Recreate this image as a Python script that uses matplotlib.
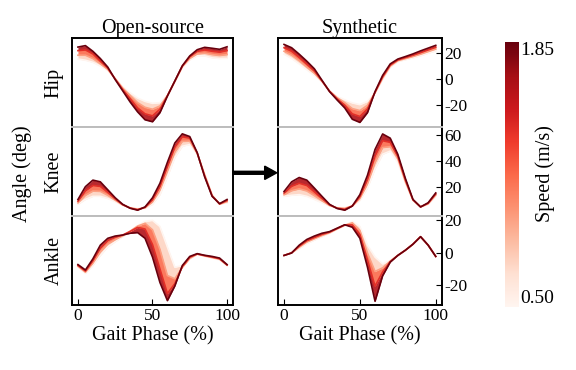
import matplotlib
matplotlib.use('Agg')
import matplotlib.pyplot as plt
import numpy as np
from matplotlib import cm
from matplotlib.colors import Normalize

plt.rcParams['font.family'] = ['Liberation Serif', 'DejaVu Serif']
plt.rcParams['axes.unicode_minus'] = False

# gait phase (%) at which the curves were read
phase = list(range(0, 101, 5))

# walking speeds (m/s) of the plotted curves: slow -> fast
speeds = [0.50, 0.95, 1.40, 1.85]

# ---- Open-source data (deg), one list per speed ----
os_hip = [
    [15.1, 14.2, 12.6, 9.8, 6.4, 0.5, -5.9, -10.5, -14.5, -17, -18.5, -18, -12.5, -2, 8.9, 14.5, 17.6, 17.5, 16, 15.5, 15.6],
    [18, 18, 15.5, 11.5, 7.2, 0.2, -6.9, -12.5, -18, -21.5, -23, -20.5, -12.7, -1.8, 9.3, 15.5, 19, 19.6, 18.5, 17.8, 18.5],
    [21.5, 22, 19, 13.5, 8.2, -0.2, -8, -15, -22, -26.5, -28, -23, -12.8, -1.6, 9.7, 16.8, 21, 22, 21, 20.3, 21.5],
    [24.2, 25.3, 21, 15.5, 9, -0.5, -9, -17.5, -25, -31, -32.5, -25.6, -13, -1.5, 10, 17.5, 22.2, 24, 23.3, 22.5, 24.4],
]
os_knee = [
    [6.9, 10.6, 13, 13, 11.3, 8.9, 6.1, 4.4, 3.7, 3.9, 6.9, 14.3, 27.9, 42.7, 51.3, 52.6, 45.2, 30.4, 14.3, 6.9, 8.1],
    [8, 13.8, 17, 16.8, 13.8, 10, 6.4, 4.2, 3.2, 4.2, 8.7, 17.9, 32.5, 47, 55, 55.2, 45.8, 29.5, 13.8, 7, 8.9],
    [9.3, 17.2, 21.3, 20.6, 16, 11, 6.7, 4, 2.8, 4.6, 10.3, 20.5, 35.8, 50.7, 58.5, 57.5, 46.2, 28.5, 13.3, 7.2, 9.8],
    [10.6, 20.4, 25.4, 24.1, 18, 11.9, 6.9, 3.9, 2.4, 4.9, 11.9, 23, 39, 53.8, 60.8, 58.7, 46.4, 27.9, 13, 7.4, 10.6],
]
os_ankle = [
    [-8.9, -12.7, -7.9, -1.7, 3.5, 6.7, 9.8, 12.9, 16.5, 19.2, 19.8, 16, 3.5, -8.9, -7.9, -3.8, -1, -2.3, -3.3, -4.4, -7.9],
    [-8.3, -12, -6.5, 0.5, 5.3, 8, 10.3, 13.2, 16.3, 18, 14, 2, -14, -16, -9, -3.5, -0.9, -2, -3, -4, -7.7],
    [-7.8, -11.3, -5, 2.8, 7.5, 9.5, 10.8, 13, 15.5, 14.5, 5, -10, -25, -19, -8.5, -2.8, -0.8, -1.8, -2.7, -3.7, -7.5],
    [-7.3, -10.6, -3.8, 4.6, 8.8, 10.2, 10.8, 11.9, 12.3, 8.8, -2.7, -18.3, -29.4, -20.4, -7.9, -2.3, -0.6, -1.6, -2.3, -3.3, -7.3],
]

# ---- Synthetic data (deg) ----
syn_hip = [
    [18.8, 15.5, 11.4, 7, 2.7, -2.2, -9, -13.3, -15.8, -18.2, -19.5, -17, -10.8, -0.3, 8.9, 13.1, 14.6, 16, 17.6, 19.5, 21.3],
    [21, 18, 13.8, 9, 4.3, -1.8, -9.2, -14.2, -18, -22.5, -24, -20, -10.4, 0.6, 9.7, 13.8, 15.4, 17, 18.8, 20.8, 22.7],
    [23.7, 21, 16.3, 11.2, 6, -1.4, -9.4, -15.1, -20, -26.5, -28.5, -22.8, -10, 1.6, 10.5, 14.4, 16.2, 18, 20, 22.1, 24.1],
    [26.2, 23.7, 18.8, 13.5, 7.7, -1, -9.6, -16, -22, -30.6, -33, -25.6, -9.6, 2.7, 11.4, 15.1, 17, 19, 21.3, 23.4, 25.5],
]
syn_knee = [
    [13, 13.8, 14.3, 13, 10.6, 8.1, 5.6, 4.4, 4.4, 5.6, 9.9, 19.3, 34.1, 45.2, 47.6, 39, 23, 9.9, 4.9, 6.9, 13],
    [14.2, 17.3, 18.7, 17.1, 13.5, 9.7, 6, 4.2, 3.8, 5.6, 11.3, 22.5, 39, 50.3, 51, 41.8, 24.2, 10.1, 4.9, 7.3, 14],
    [15.5, 20.7, 23, 21.3, 16.4, 11.4, 6.5, 3.9, 3.1, 5.6, 12.8, 25.8, 44, 55.5, 54.3, 43.5, 25.5, 10.4, 4.9, 7.7, 14.8],
    [16.7, 24.1, 27.4, 25.4, 19.3, 13, 6.9, 3.7, 2.4, 5.6, 14.3, 29.1, 48.9, 60.7, 57.5, 45.2, 26.7, 10.6, 4.9, 8.1, 15.6],
]
syn_ankle = [
    [-1.7, 0, 2.5, 5.6, 7.7, 9.8, 11.9, 14.4, 16.5, 19.2, 16, 4.6, -2.7, -6.9, -4.8, -1.7, 1.5, 5.2, 9.8, 4.6, -2.3],
    [-1.7, -0.1, 3.3, 6.5, 8.5, 10.5, 12.2, 14.6, 16.8, 18.3, 13.6, -0.2, -11.5, -9.3, -5.2, -1.7, 1.5, 5.2, 9.8, 4.6, -2.3],
    [-1.7, -0.1, 4, 7.3, 9.3, 11.2, 12.6, 14.8, 17, 17, 11.2, -4.6, -20.5, -11.8, -5.5, -1.7, 1.5, 5.2, 9.8, 4.6, -2.3],
    [-1.7, -0.2, 4.6, 8.1, 10.2, 11.9, 12.9, 15, 17.1, 15.6, 8.8, -8.9, -29.8, -14.2, -5.8, -1.7, 1.5, 5.2, 9.8, 4.6, -2.3],
]

joints = ['Hip', 'Knee', 'Ankle']
joint_ylims = [(-36.5, 31), (-2, 66), (-32, 22.5)]
joint_yticks = [[-20, 0, 20], [20, 40, 60], [-20, 0, 20]]

cmap = plt.get_cmap('Reds')
norm = Normalize(vmin=0.5, vmax=1.85)


def draw_joint(ax, curves):
    x = np.array(phase)
    # shade between neighbouring speeds so the band looks continuous
    for i in range(len(curves) - 1):
        mid = (speeds[i] + speeds[i + 1]) / 2
        ax.fill_between(x, curves[i], curves[i + 1], color=cmap(norm(mid)),
                        lw=0, alpha=0.9)
    for s, c in zip(speeds, curves):
        ax.plot(x, c, color=cmap(norm(s)), lw=1.2, solid_joinstyle='round')


fig = plt.figure(figsize=(5.76, 3.70), dpi=100)

panels = [('Open-source', [os_hip, os_knee, os_ankle], 0.125, 0.4045),
          ('Synthetic', [syn_hip, syn_knee, syn_ankle], 0.4826, 0.767)]

for p, (title, data, left, right) in enumerate(panels):
    gs = fig.add_gridspec(3, 1, left=left, right=right, top=0.897,
                          bottom=0.176, hspace=0)
    for r in range(3):
        ax = fig.add_subplot(gs[r, 0])
        draw_joint(ax, data[r])
        ax.set_xlim(-4, 104)
        ax.set_ylim(*joint_ylims[r])
        for sp in ax.spines.values():
            sp.set_linewidth(1.4)
        if r > 0:
            ax.spines['top'].set_color('#bdbdbd')
        if r < 2:
            ax.spines['bottom'].set_color('#bdbdbd')
            ax.set_xticks([])
        else:
            ax.set_xticks([0, 50, 100])
            ax.set_xlabel('Gait Phase (%)', fontsize=14.5, labelpad=2)
        ax.tick_params(direction='in', labelsize=12.5, length=4, pad=2)
        if p == 0:
            ax.set_yticks([])
            ax.set_ylabel(joints[r], fontsize=14.5, labelpad=6)
        else:
            ax.set_yticks(joint_yticks[r])
            ax.yaxis.tick_right()
        if r == 0:
            ax.set_title(title, fontsize=14.5, pad=4)

fig.text(0.038, 0.53, 'Angle (deg)', rotation=90, fontsize=14.5,
         ha='center', va='center')

# arrow between the two panels
fig.patches.append(matplotlib.patches.FancyArrow(
    0.4045, 0.533, 0.076, 0, width=0.008, head_width=0.036,
    head_length=0.021, length_includes_head=True,
    color='black', transform=fig.transFigure, figure=fig))

# colour bar
cax = fig.add_axes([0.877, 0.170, 0.024, 0.716])
sm = cm.ScalarMappable(norm=norm, cmap=cmap)
cbar = fig.colorbar(sm, cax=cax, ticks=[0.5, 1.85])
cbar.ax.set_yticklabels(['0.50', '1.85'])
cbar.outline.set_visible(False)
cbar.ax.tick_params(length=0, labelsize=14, pad=1)
labels = cbar.ax.get_yticklabels()
labels[0].set_va('bottom')
labels[1].set_va('top')
fig.text(0.946, 0.53, 'Speed (m/s)', rotation=90, fontsize=14.5,
         ha='center', va='center')

plt.savefig('out.png', dpi=100)
